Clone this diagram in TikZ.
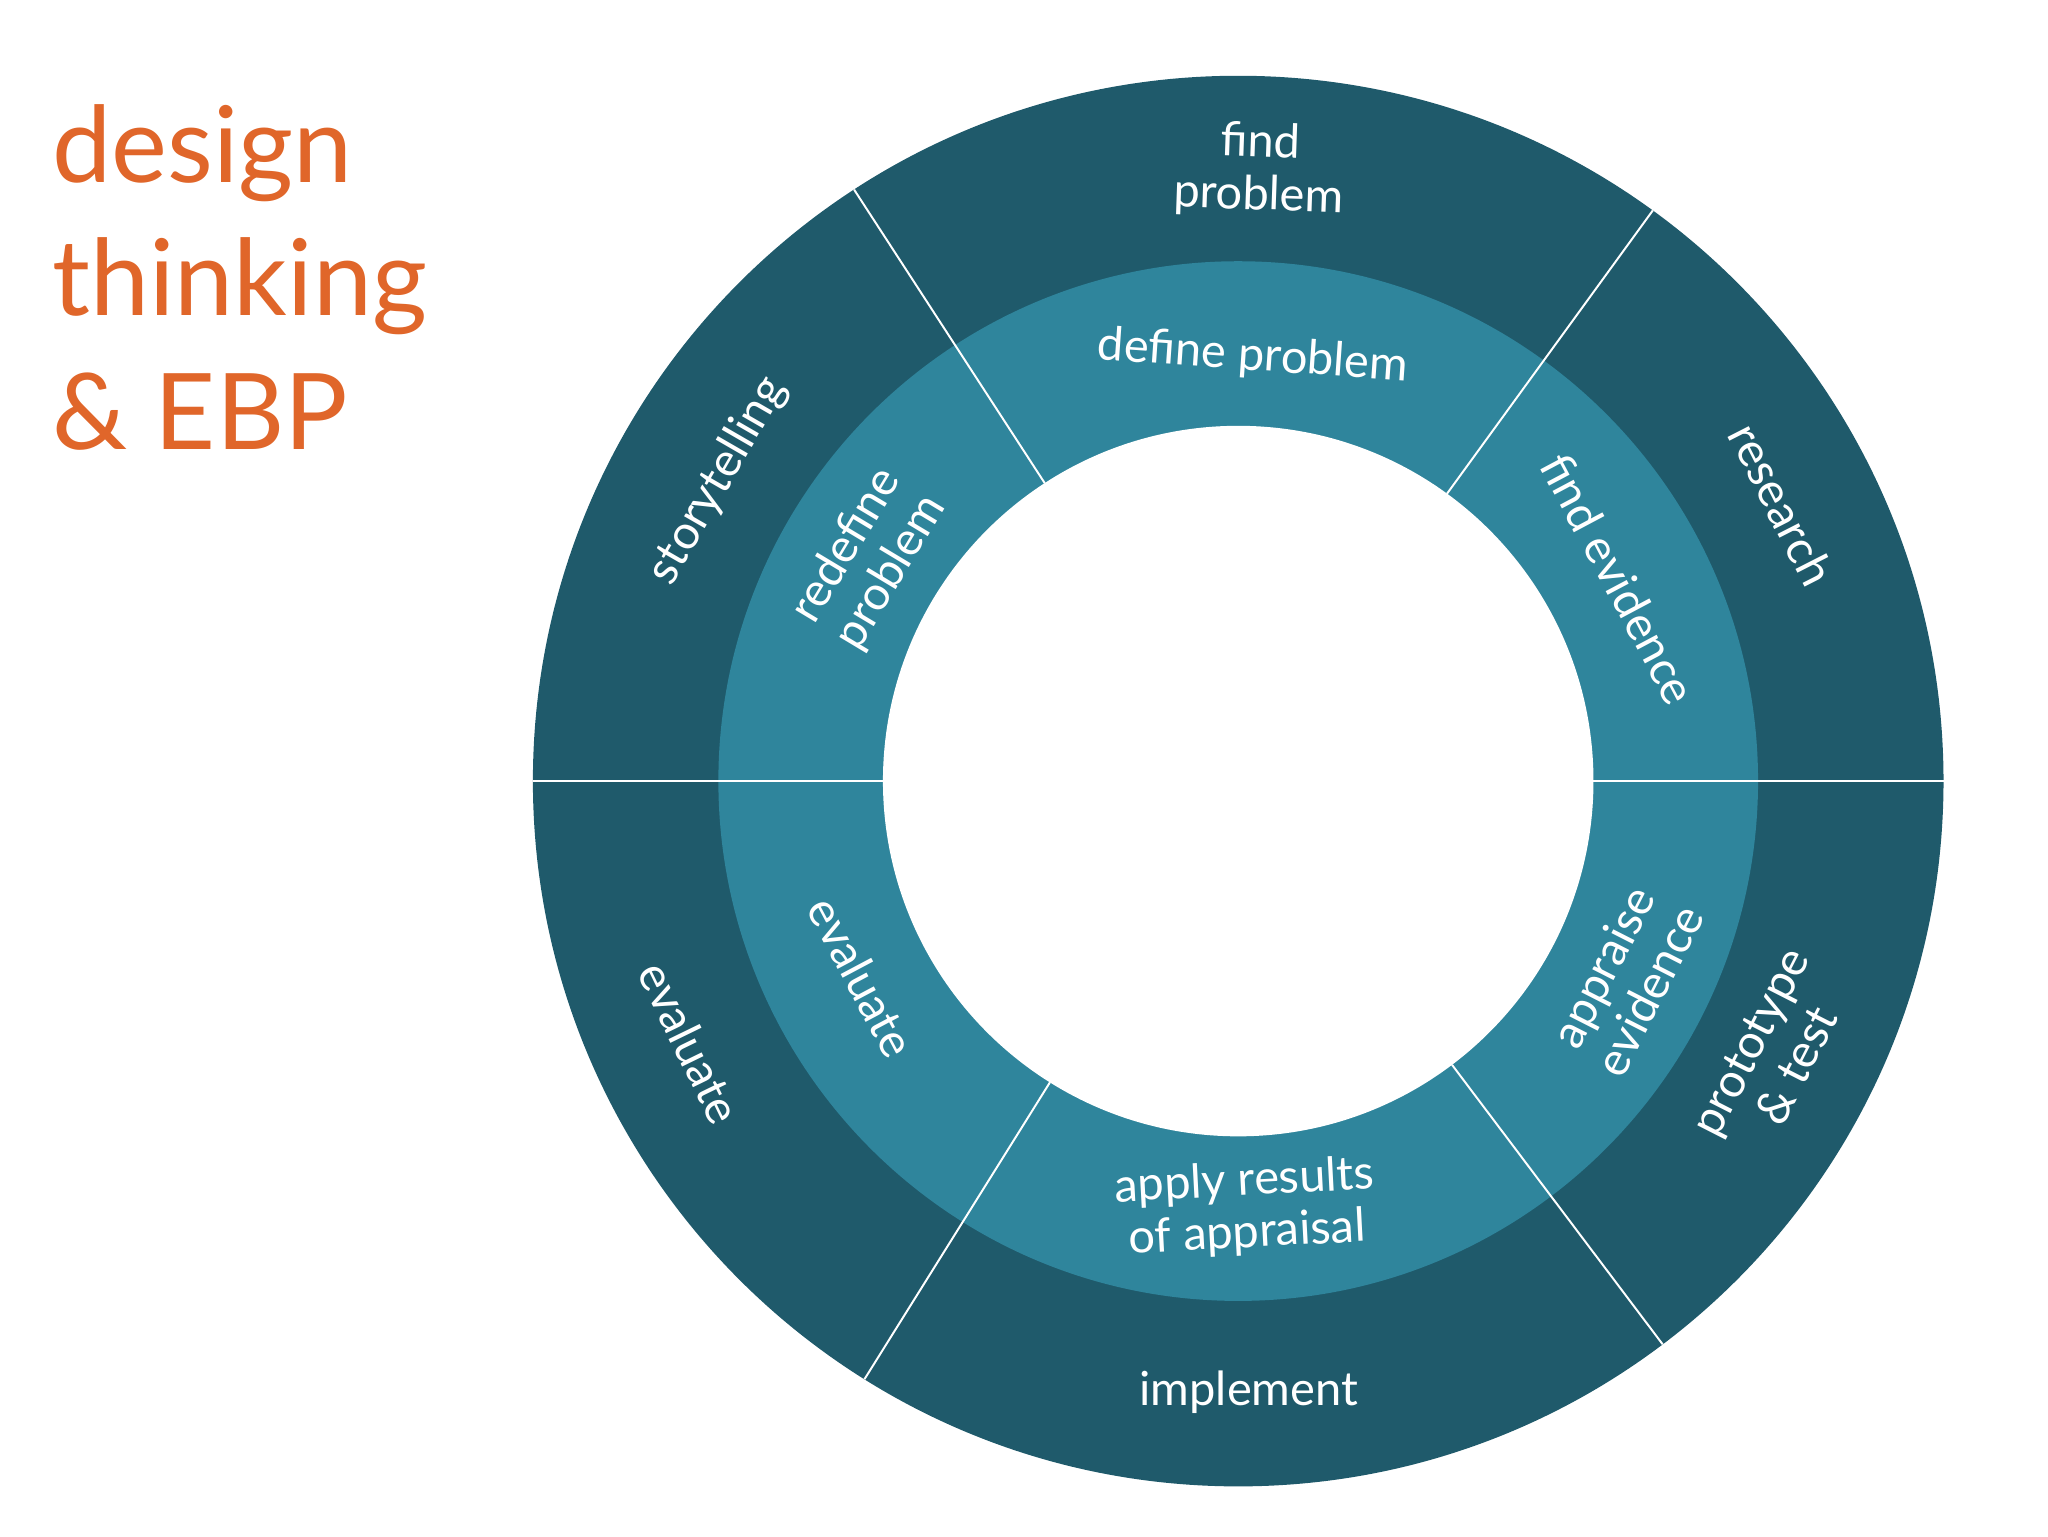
\documentclass[tikz,border=0pt]{standalone}
\usepackage{fontspec}
\usetikzlibrary{calc}
\setmainfont{Lato}
\definecolor{outerc}{HTML}{1F5A6B}
\definecolor{innerc}{HTML}{2F859C}
\definecolor{orng}{HTML}{E0662A}
\begin{document}
\begin{tikzpicture}[x=1pt,y=1pt,
  lbl/.style={text=white,font=\fontsize{36}{40}\selectfont,align=center,inner sep=0pt},
  sep/.style={draw=white,line width=1.5pt}]
\useasboundingbox (0,0) rectangle (1568,-1176);
\coordinate (c) at (948,-598);
\fill[outerc] (c) circle (540);
\fill[innerc] (c) circle (398);
\fill[white] (c) circle (272);
\foreach \a in {0,54,123,180,238,307}
  \draw[sep] ($(c)+(\a:272)$) -- ($(c)+(\a:540)$);
\node[text=orng,font=\fontsize{81}{102}\selectfont,align=left,anchor=north west,inner sep=0pt] (title) at (40,-80) {design\\thinking\\\& EBP};
% outer
\node[lbl,rotate=-2] (o1) at ($(c)+(88:468)$) {find\\problem};
\node[lbl,rotate=-63] (o2) at ($(c)+(27:467)$) {research};
\node[lbl,rotate=63] (o3) at ($(c)+(-27:460)$) {prototype\\\& test};
\node[lbl] (o4) at ($(c)+(-89:468)$) {implement};
\node[lbl,rotate=-64] (o5) at ($(c)+(205.5:465)$) {evaluate};
\node[lbl,rotate=60] (o6) at ($(c)+(150:460)$) {storytelling};
% inner
\node[lbl,rotate=-4] (i1) at ($(c)+(88:325)$) {define problem};
\node[lbl,rotate=-62] (i2) at ($(c)+(28:330)$) {find evidence};
\node[lbl,rotate=63] (i3) at ($(c)+(-27:333)$) {appraise\\evidence};
\node[lbl,rotate=3] (i4) at ($(c)+(-89:327)$) {apply results\\of appraisal};
\node[lbl,rotate=-62] (i5) at ($(c)+(207.5:325)$) {evaluate};
\node[lbl,rotate=59] (i6) at ($(c)+(149:330)$) {redefine\\problem};
\end{tikzpicture}
\end{document}
